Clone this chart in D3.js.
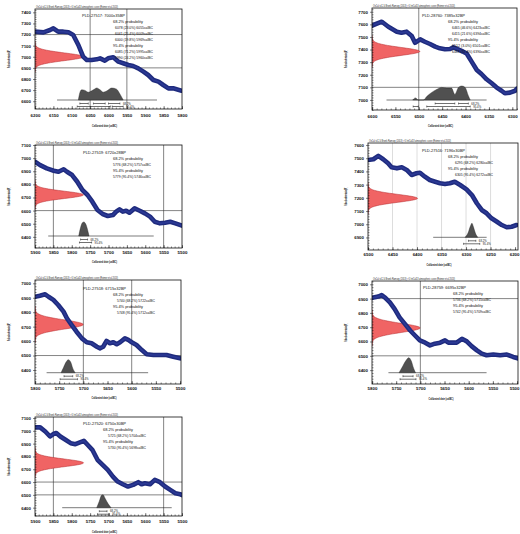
<!DOCTYPE html>
<html><head><meta charset="utf-8">
<script src="https://cdn.jsdelivr.net/npm/d3@7"></script>
<style>body{margin:0;background:#fff}svg{display:block}text{font-family:"Liberation Sans",Arial,sans-serif}</style>
</head><body><svg id="c" width="520" height="534"></svg>
<script>
// ---------------- DATA ----------------
const sampleIds = ["PLD-27517","PLD-28760","PLD-27519","PLD-27516","PLD-27518","PLD-28759","PLD-27520"];
const c14Mean = [7000,7385,6720,7196,6715,6695,6750];
const c14Err  = [35,32,28,30,32,32,30];

const xTicks1 = [6200,6150,6100,6050,6000,5950,5900,5850,5800];
const xTicks2 = [6600,6550,6500,6450,6400,6350,6300];
const xTicks3 = [5900,5850,5800,5750,5700,5650,5600,5550,5500];
const xTicks4 = [6500,6450,6400,6350,6300,6250,6200];
const xTicks5 = [5800,5750,5700,5650,5600,5550,5500];
const xTicks6 = [5800,5750,5700,5650,5600,5550,5500];
const xTicks7 = [5900,5850,5800,5750,5700,5650,5600,5550,5500];

const yTicks1 = [7400,7300,7200,7100,7000,6900,6800,6700,6600];
const yTicks2 = [7700,7600,7500,7400,7300,7200,7100,7000];
const yTicks3 = [7100,7000,6900,6800,6700,6600,6500,6400];
const yTicks4 = [7600,7500,7400,7300,7200,7100,7000,6900];
const yTicks5 = [7000,6900,6800,6700,6600,6500,6400];
const yTicks6 = [7000,6900,6800,6700,6600,6500,6400];
const yTicks7 = [7100,7000,6900,6800,6700,6600,6500,6400];

const xDomain1 = [6200,5800], yDomain1 = [6530,7430];
const xDomain2 = [6600,6290], yDomain2 = [6920,7730];
const xDomain3 = [5900,5500], yDomain3 = [6315,7100];
const xDomain4 = [6500,6194], yDomain4 = [6805,7615];
const xDomain5 = [5800,5498], yDomain5 = [6303,7023];
const xDomain6 = [5800,5498], yDomain6 = [6303,7023];
const xDomain7 = [5900,5500], yDomain7 = [6335,7108];

// calibration curve [cal BC, BP]
const curve1 = [[6200,7226],[6177,7220],[6159,7241],[6150,7256],[6137,7226],[6123,7226],[6109,7220],[6096,7196],[6082,7106],[6069,7001],[6059,6971],[6046,6971],[6032,6977],[6023,6986],[6010,6965],[6001,6986],[5987,6995],[5973,6956],[5960,6942],[5946,6926],[5933,6917],[5919,6896],[5905,6866],[5892,6836],[5878,6791],[5864,6776],[5851,6746],[5837,6716],[5824,6716],[5801,6695]];
const curve2 = [[6600,7590],[6597,7595],[6579,7621],[6565,7581],[6547,7542],[6537,7534],[6526,7542],[6515,7508],[6508,7454],[6497,7481],[6487,7462],[6476,7444],[6465,7423],[6455,7410],[6444,7402],[6433,7404],[6426,7418],[6416,7402],[6405,7383],[6398,7370],[6387,7304],[6376,7238],[6366,7206],[6355,7164],[6344,7132],[6334,7100],[6323,7073],[6316,7053],[6305,7058],[6294,7073],[6290,7090]];
const curve3 = [[5900,6973],[5886,6947],[5868,6922],[5849,6904],[5836,6896],[5822,6915],[5813,6896],[5799,6871],[5785,6820],[5771,6757],[5757,6719],[5744,6668],[5730,6605],[5716,6574],[5702,6559],[5688,6566],[5679,6592],[5670,6610],[5661,6592],[5652,6599],[5643,6584],[5629,6617],[5615,6599],[5601,6579],[5587,6554],[5574,6515],[5560,6503],[5546,6508],[5532,6515],[5518,6503],[5500,6485]];
const curve4 = [[6500,7486],[6489,7492],[6479,7517],[6469,7492],[6459,7461],[6452,7431],[6441,7423],[6431,7431],[6421,7411],[6411,7373],[6401,7386],[6394,7390],[6384,7360],[6374,7335],[6363,7322],[6353,7310],[6343,7305],[6333,7310],[6323,7322],[6312,7297],[6299,7264],[6288,7221],[6278,7159],[6268,7108],[6258,7083],[6248,7045],[6237,7019],[6227,6994],[6217,6977],[6207,6981],[6197,6994]];
const curve5 = [[5800,6907],[5790,6914],[5779,6924],[5772,6907],[5762,6885],[5752,6850],[5741,6804],[5734,6758],[5724,6711],[5714,6665],[5703,6619],[5693,6592],[5683,6585],[5672,6561],[5666,6550],[5659,6561],[5652,6601],[5645,6585],[5638,6592],[5631,6578],[5624,6592],[5614,6619],[5607,6608],[5600,6592],[5590,6573],[5579,6538],[5569,6509],[5555,6504],[5541,6504],[5528,6504],[5514,6492],[5500,6481]];
const curve6 = [[5800,6905],[5797,6907],[5787,6914],[5780,6924],[5773,6907],[5763,6873],[5753,6827],[5743,6769],[5732,6723],[5721,6677],[5711,6642],[5701,6608],[5690,6592],[5680,6573],[5670,6585],[5659,6592],[5649,6608],[5642,6592],[5635,6592],[5625,6592],[5614,6619],[5604,6601],[5594,6568],[5583,6538],[5573,6515],[5563,6504],[5549,6509],[5535,6504],[5521,6509],[5508,6492],[5497,6481]];
const curve7 = [[5900,7027],[5886,7027],[5872,6995],[5859,6956],[5850,6975],[5842,6983],[5831,6956],[5817,6930],[5803,6904],[5790,6896],[5776,6912],[5767,6922],[5757,6891],[5744,6852],[5730,6774],[5716,6734],[5702,6695],[5688,6643],[5675,6604],[5661,6583],[5647,6565],[5633,6578],[5619,6599],[5610,6583],[5601,6591],[5587,6583],[5574,6617],[5560,6599],[5546,6565],[5532,6539],[5518,6513],[5505,6505],[5495,6494]];

// calibrated probability distributions [cal BC, relative probability]
const post1 = [[6082,0],[6078,0.6],[6073,0.85],[6064,0.8],[6055,0.65],[6041,0.85],[6032,1.0],[6023,0.85],[6014,0.65],[6005,0.75],[5991,1.0],[5978,0.9],[5969,0.5],[5960,0]];
const post2 = [[6513,0],[6507,0.15],[6501,0],[6490,0],[6483,0.25],[6476,0.45],[6462,0.75],[6451,0.9],[6440,0.85],[6430,0.85],[6423,0.4],[6415,0.9],[6408,1.0],[6401,0.9],[6394,0.3],[6390,0]];
const post3 = [[5781,0],[5776,0.6],[5771,0.95],[5767,1.0],[5762,0.85],[5757,0.45],[5753,0]];
const post4 = [[6302,0],[6296,0.3],[6291,0.8],[6288,1.0],[6285,0.75],[6281,0.3],[6276,0]];
const post5 = [[5746,0],[5741,0.4],[5736,0.8],[5731,1.0],[5726,0.8],[5722,0.35],[5717,0]];
const post6 = [[5744,0],[5737,0.4],[5730,0.8],[5724,1.0],[5719,0.8],[5714,0.3],[5710,0]];
const post7 = [[5732,0],[5725,0.5],[5719,0.95],[5715,1.0],[5709,0.7],[5701,0.3],[5693,0]];

// ranges [from, to, %]
const r68_1 = [[6078,6055,23.0],[6041,6009,25.4],[6000,5969,19.8]], r95_1 = [[6085,5995,71.2],[5990,5960,24.2]];
const r68_2 = [[6465,6423,46.6],[6415,6394,21.6]], r95_2 = [[6512,6501,3.0],[6483,6390,92.4]];
const r68_3 = [[5776,5757,68.2]], r95_3 = [[5779,5746,95.4]];
const r68_4 = [[6295,6280,68.2]], r95_4 = [[6305,6272,95.4]];
const r68_5 = [[5740,5722,68.2]], r95_5 = [[5748,5712,95.4]];
const r68_6 = [[5736,5715,68.2]], r95_6 = [[5742,5709,95.4]];
const r68_7 = [[5725,5704,68.2]], r95_7 = [[5730,5698,95.4]];

// extent of distribution baseline
const base1 = [6140,5868], base2 = [6569,6355], base3 = [5864,5577], base4 = [6367,6258];
const base5 = [5776,5566], base6 = [5766,5563], base7 = [5826,5528];

// grid lines
const gridX1 = [6050,5950], gridY1 = [7200,6900];
const gridX2 = [6500], gridY2 = [7100];
const gridX3 = [5850,5550], gridY3 = [6600];
const gridX4 = [6450,6400,6350,6300,6250], gridY4 = [];
const gridX5 = [5700,5600], gridY5 = [6500];
const gridX6 = [5700], gridY6 = [6900,6500];
const gridX7 = [5850,5550], gridY7 = [6600,6500];

const caption = "OxCal v4.2.4 Bronk Ramsey (2013); r:5 IntCal13 atmospheric curve (Reimer et al 2013)";
const xTitle = "Calibrated date (calBC)";
const yTitle = "Radiocarbon determination (BP)";

// ---------------- LAYOUT ----------------
const layout = [
 {l:35,r:182,t:9,b:109, tx:47,ty:6, hx:78, rx:80, tk:5, ti:18, yl:10, base:9, h:12},
 {l:372,r:517,t:8,b:110, tx:50,ty:7, hx:76, rx:80, tk:4.5, ti:16.5, yl:347, base:10, h:14},
 {l:35,r:182,t:145,b:248, tx:48,ty:7, hx:78, rx:78, tk:3, ti:15, yl:10, base:12, h:14},
 {l:368,r:518,t:143,b:250, tx:54,ty:7, hx:80, rx:87, tk:2.5, ti:15.5, yl:347, base:12.7, h:14},
 {l:35,r:181,t:280,b:384, tx:48,ty:8, hx:78, rx:82, tk:2.5, ti:14.5, yl:10, base:11.3, h:13},
 {l:372,r:518,t:281,b:384, tx:51,ty:6, hx:81, rx:81, tk:2.5, ti:15.5, yl:347, base:11.3, h:15},
 {l:35,r:182,t:417,b:516, tx:48,ty:6, hx:68, rx:73, tk:3.5, ti:16.5, yl:10, base:8.3, h:13}
];

const panels = [
 {xT:xTicks1,yT:yTicks1,xD:xDomain1,yD:yDomain1,cv:curve1,pp:post1,r68:r68_1,r95:r95_1,bl:base1,gx:gridX1,gy:gridY1},
 {xT:xTicks2,yT:yTicks2,xD:xDomain2,yD:yDomain2,cv:curve2,pp:post2,r68:r68_2,r95:r95_2,bl:base2,gx:gridX2,gy:gridY2},
 {xT:xTicks3,yT:yTicks3,xD:xDomain3,yD:yDomain3,cv:curve3,pp:post3,r68:r68_3,r95:r95_3,bl:base3,gx:gridX3,gy:gridY3},
 {xT:xTicks4,yT:yTicks4,xD:xDomain4,yD:yDomain4,cv:curve4,pp:post4,r68:r68_4,r95:r95_4,bl:base4,gx:gridX4,gy:gridY4},
 {xT:xTicks5,yT:yTicks5,xD:xDomain5,yD:yDomain5,cv:curve5,pp:post5,r68:r68_5,r95:r95_5,bl:base5,gx:gridX5,gy:gridY5},
 {xT:xTicks6,yT:yTicks6,xD:xDomain6,yD:yDomain6,cv:curve6,pp:post6,r68:r68_6,r95:r95_6,bl:base6,gx:gridX6,gy:gridY6},
 {xT:xTicks7,yT:yTicks7,xD:xDomain7,yD:yDomain7,cv:curve7,pp:post7,r68:r68_7,r95:r95_7,bl:base7,gx:gridX7,gy:gridY7}
];

// ---------------- DRAW ----------------
const svg = d3.select("#c");
const defs = svg.append("defs");
const fmtR = r => `${r[0]} (${r[2].toFixed(1)}%) ${r[1]}calBC`;

panels.forEach((p, i) => {
  const L = layout[i];
  const x = d3.scaleLinear().domain(p.xD).range([L.l, L.r]);
  const y = d3.scaleLinear().domain(p.yD).range([L.b, L.t]);
  const g = svg.append("g");
  const cid = "clip" + i;
  defs.append("clipPath").attr("id", cid).append("rect")
    .attr("x", L.l).attr("y", L.t).attr("width", L.r - L.l).attr("height", L.b - L.t);
  const inner = g.append("g").attr("clip-path", `url(#${cid})`);

  // grid
  const light = i === 3;
  inner.selectAll(".gx").data(p.gx).join("line")
    .attr("x1", d => x(d)).attr("x2", d => x(d)).attr("y1", L.t).attr("y2", L.b)
    .attr("stroke", light ? "#bbb" : "#333").attr("stroke-width", light ? 0.5 : 0.6);
  inner.selectAll(".gy").data(p.gy).join("line")
    .attr("y1", d => y(d)).attr("y2", d => y(d)).attr("x1", L.l).attr("x2", L.r)
    .attr("stroke", "#333").attr("stroke-width", 0.6);

  // radiocarbon determination (normal distribution on the BP axis)
  const mu = c14Mean[i], sd = c14Err[i], amp = (L.r - L.l) * 0.33;
  const gpts = d3.range(-4, 4.001, 0.1).map(k => [mu + k * sd, Math.exp(-k * k / 2)]);
  const garea = d3.area().curve(d3.curveLinear)
    .y(d => y(d[0])).x0(L.l).x1(d => L.l + amp * d[1]);
  inner.append("path").datum(gpts).attr("d", garea)
    .attr("fill", "#f06464").attr("stroke", "#b3262a").attr("stroke-width", 0.5);

  // calibration curve
  const line = d3.line().curve(d3.curveLinear).x(d => x(d[0])).y(d => y(d[1]));
  inner.append("path").datum(p.cv).attr("d", line)
    .attr("fill", "none").attr("stroke", "#1f2b7e").attr("stroke-width", 4.6)
    .attr("stroke-linejoin", "round").attr("stroke-linecap", "round");
  inner.append("path").datum(p.cv).attr("d", line)
    .attr("fill", "none").attr("stroke", "#2c3a96").attr("stroke-width", 1.6)
    .attr("stroke-linejoin", "round");

  // calibrated distribution
  const by = L.b - L.base;
  inner.append("line").attr("x1", x(p.bl[0])).attr("x2", x(p.bl[1]))
    .attr("y1", by).attr("y2", by).attr("stroke", "#222").attr("stroke-width", 0.6);
  const parea = d3.area().curve(d3.curveMonotoneX)
    .x(d => x(d[0])).y0(by).y1(d => by - L.h * d[1]);
  inner.append("path").datum(p.pp).attr("d", parea)
    .attr("fill", "#505050").attr("stroke", "#222").attr("stroke-width", 0.4);

  // range brackets
  [[p.r68, 3.5, "68.2%"], [p.r95, 6.5, "95.4%"]].forEach(([rs, off, lab]) => {
    const yy = by + off;
    rs.forEach(r => {
      inner.append("line").attr("x1", x(r[0])).attr("x2", x(r[1])).attr("y1", yy).attr("y2", yy)
        .attr("stroke", "#111").attr("stroke-width", 0.6);
      [r[0], r[1]].forEach(v => inner.append("line").attr("x1", x(v)).attr("x2", x(v))
        .attr("y1", yy - 1).attr("y2", yy + 1).attr("stroke", "#111").attr("stroke-width", 0.5));
    });
    const last = d3.min(rs, r => r[1]);
    g.append("text").attr("x", x(last) + 3).attr("y", yy + 1).attr("font-size", 2.8)
      .attr("fill", "#111").text(lab);
  });

  // text block
  const lines = [];
  lines.push({t: `${sampleIds[i]}: ${c14Mean[i]}±${c14Err[i]}BP`, dx: L.tx, fs: 4.2, len: 43});
  lines.push({t: "68.2% probability", dx: L.hx, fs: 3.8, len: 30});
  p.r68.forEach(r => lines.push({t: fmtR(r), dx: L.rx, fs: 3.8, len: 38}));
  lines.push({t: "95.4% probability", dx: L.hx, fs: 3.8, len: 30});
  p.r95.forEach(r => lines.push({t: fmtR(r), dx: L.rx, fs: 3.8, len: 38}));
  lines.forEach((ln, k) => {
    g.append("text").attr("x", L.l + ln.dx).attr("y", L.t + L.ty + 1.5 + k * 6)
      .attr("font-size", ln.fs).attr("fill", "#111")
      .attr("textLength", ln.len).attr("lengthAdjust", "spacingAndGlyphs").text(ln.t);
  });

  // caption
  g.append("text").attr("x", L.l + 1).attr("y", L.t - 1.2).attr("font-size", 3)
    .attr("fill", "#222").attr("textLength", 82).attr("lengthAdjust", "spacingAndGlyphs").text(caption);

  // frame
  g.append("rect").attr("x", L.l).attr("y", L.t).attr("width", L.r - L.l).attr("height", L.b - L.t)
    .attr("fill", "none").attr("stroke", "#111").attr("stroke-width", 0.8);

  // axes
  const minorX = d3.range(Math.ceil(d3.min(p.xD) / 10) * 10, d3.max(p.xD) + 0.1, 10);
  const minorY = d3.range(Math.ceil(p.yD[0] / 20) * 20, p.yD[1] + 0.1, 20);
  const ax = g.append("g").attr("transform", `translate(0,${L.b})`)
    .call(d3.axisBottom(x).tickValues(p.xT).tickSize(-3).tickPadding(L.tk).tickFormat(d3.format("d")));
  const axm = g.append("g").attr("transform", `translate(0,${L.b})`)
    .call(d3.axisBottom(x).tickValues(minorX).tickSize(-1.5).tickFormat(""));
  const ay = g.append("g").attr("transform", `translate(${L.l},0)`)
    .call(d3.axisLeft(y).tickValues(p.yT).tickSize(2).tickPadding(2).tickFormat(d3.format("d")));
  const aym = g.append("g").attr("transform", `translate(${L.l},0)`)
    .call(d3.axisLeft(y).tickValues(minorY).tickSize(-1.5).tickFormat(""));
  [ax, axm, ay, aym].forEach(a => {
    a.select(".domain").remove();
    a.selectAll("line").attr("stroke", "#111").attr("stroke-width", 0.5);
    a.selectAll("text").attr("font-size", 4.4).attr("font-weight", "bold").attr("fill", "#111")
      .attr("font-family", "'Liberation Sans', Arial, sans-serif");
  });
  // keep edge labels inside the page
  ax.selectAll(".tick text").each(function(d) {
    if (x(d) + 6 > 519) d3.select(this).attr("text-anchor", "end").attr("x", 519 - x(d));
  });

  // axis titles
  g.append("text").attr("x", (L.l + L.r) / 2 - 4).attr("y", L.b + L.ti).attr("text-anchor", "middle")
    .attr("font-size", 4).attr("font-weight", "bold").attr("fill", "#111")
    .attr("textLength", 25).attr("lengthAdjust", "spacingAndGlyphs").text(xTitle);
  g.append("text").attr("transform", `translate(${L.yl},${(L.t + L.b) / 2}) rotate(-90)`)
    .attr("text-anchor", "middle").attr("font-size", 4).attr("font-weight", "bold").attr("fill", "#111")
    .attr("textLength", 18).attr("lengthAdjust", "spacingAndGlyphs").text(yTitle);
});
</script>
</body></html>
